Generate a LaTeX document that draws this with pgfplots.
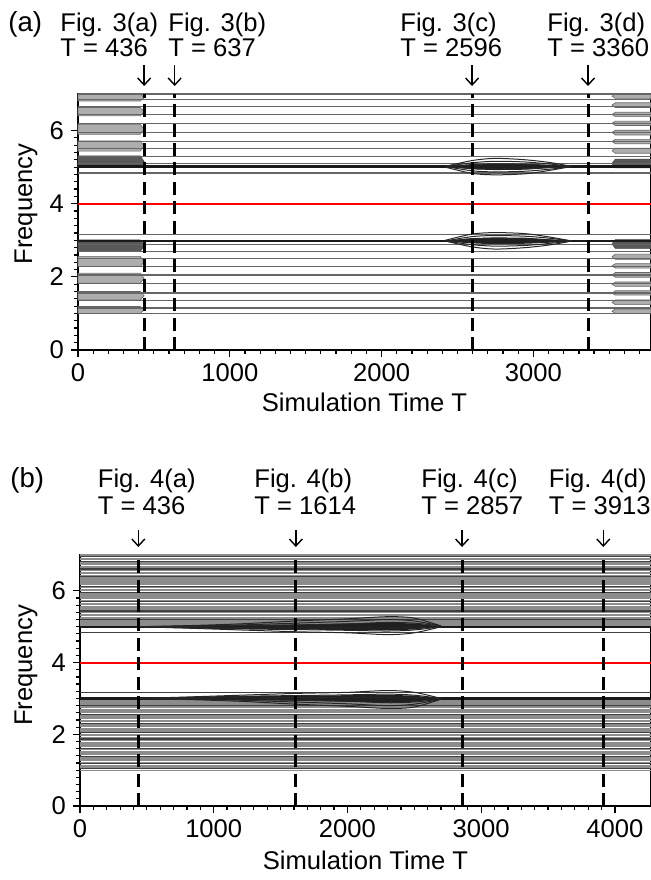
\documentclass[border=0pt]{standalone}
\usepackage{fontspec}
\setmainfont{Liberation Sans}
\usepackage{pgfplots}
\pgfplotsset{compat=1.18}
\usetikzlibrary{arrows.meta}
\newcommand{\fs}{\fontsize{12.8bp}{15bp}\selectfont}
\newcommand{\fb}{\fontsize{13.8bp}{16bp}\selectfont}
\tikzset{
  arr/.style={-{Straight Barb[length=3.5bp,width=6.5bp]}, line width=0.7bp},
  vdash/.style={black, line width=1.5bp, dash pattern=on 6.5bp off 3.2bp},
  post/.style={black!60, line width=0.6bp},
  thickl/.style={black!90, line width=1.2bp},
  bandL/.style={fill=black!32, draw=black!60, line width=0.3bp},
  bandD/.style={fill=black!65, draw=black!75, line width=0.3bp},
  lens/.style={smooth, black!85, line width=0.5bp},
  bline/.style={black!45, line width=0.62bp},
  dline/.style={black!75, line width=0.6bp},
}
\pgfplotsset{
  myaxis/.style={
    scale only axis, anchor=south west, clip=false,
    ymin=0, ymax=7, xmin=0,
    xtick={0,1000,2000,3000,4000}, ytick={0,2,4,6},
    minor x tick num=9, minor y tick num=9,
    tick align=outside, xtick pos=bottom, ytick pos=left,
    major tick length=3.5bp, minor tick length=2bp,
    every tick/.style={black, line width=0.6bp},
    axis line style={line width=0.7bp},
    tick label style={font=\fs},
    label style={font=\fs},
    /pgf/number format/assume math mode=true,
    /pgf/number format/1000 sep={},
    xlabel={Simulation Time T}, ylabel={Frequency},
  }
}
\begin{document}
\begin{tikzpicture}
\useasboundingbox (0,0) rectangle (325.5bp,440bp);
% ---------------- panel (a)
\begin{axis}[myaxis, at={(39bp,265bp)}, width=286.5bp, height=128bp, xmax=3775,
  xlabel style={at={(axis description cs:0.5,-0.203)}, anchor=center},
  ylabel style={at={(axis description cs:-0.0907,0.57)}, anchor=center}]
% bands before T = 436
\foreach \lo/\mi/\hi in {5.44/5.58/5.72, 5.90/6.03/6.17, 6.40/6.52/6.63, 6.81/6.90/7.00,
  1.00/1.10/1.19, 1.37/1.48/1.60, 1.83/1.96/2.10, 2.28/2.42/2.56}{
  \edef\tmp{\noexpand\addplot[bandL] coordinates {(0,\lo) (410,\lo) (436,\mi) (410,\hi) (0,\hi)} -- cycle;}\tmp}
\foreach \lo/\mi/\hi in {4.99/5.15/5.31, 2.69/2.85/3.01}{
  \edef\tmp{\noexpand\addplot[bandD] coordinates {(0,\lo) (410,\lo) (436,\mi) (410,\hi) (0,\hi)} -- cycle;}\tmp}
% bands after T = 3518
\foreach \lo/\mi/\hi in {6.88/6.94/7.00, 6.63/6.70/6.76, 6.38/6.44/6.50, 6.14/6.20/6.26,
  5.88/5.95/6.01, 5.64/5.70/5.76, 5.38/5.45/5.52,
  1.00/1.06/1.12, 1.24/1.30/1.37, 1.50/1.56/1.62, 1.74/1.80/1.86,
  1.99/2.05/2.12, 2.24/2.30/2.36, 2.48/2.55/2.62}{
  \edef\tmp{\noexpand\addplot[bandL] coordinates {(3775,\lo) (3540,\lo) (3518,\mi) (3540,\hi) (3775,\hi)} -- cycle;}\tmp}
\foreach \lo/\mi/\hi in {4.98/5.10/5.22, 2.78/2.90/3.02}{
  \edef\tmp{\noexpand\addplot[bandD] coordinates {(3775,\lo) (3540,\lo) (3518,\mi) (3540,\hi) (3775,\hi)} -- cycle;}\tmp}
% persistent lines
\pgfplotsinvokeforeach{7.00,6.85,6.65,6.44,6.19,5.95,5.71,5.50,5.30,5.11,4.84,
  1.00,1.15,1.35,1.56,1.81,2.05,2.29,2.50,2.70,2.89,3.16}{
  \addplot[post] coordinates {(0,#1) (3775,#1)};}
\addplot[thickl] coordinates {(0,5.02) (3775,5.02)};
\addplot[thickl] coordinates {(0,2.98) (3775,2.98)};
% lens near 5
\addplot[fill=black!88, draw=none] coordinates {(2420,5.02) (2596,5.07) (2750,5.09) (2950,5.08) (3120,5.05) (3252,5.02)
  (3120,4.98) (2950,4.93) (2750,4.92) (2596,4.94)} -- cycle;
\addplot[lens] coordinates {(2420,5.02) (2596,5.18) (2750,5.24) (2950,5.20) (3120,5.12) (3252,5.02)};
\addplot[lens] coordinates {(2420,5.02) (2596,5.12) (2750,5.16) (2950,5.14) (3120,5.08) (3252,5.02)};
\addplot[lens] coordinates {(2420,5.02) (2596,5.07) (2750,5.09) (2950,5.08) (3120,5.05) (3252,5.02)};
\addplot[lens] coordinates {(2420,5.02) (2596,4.96) (2750,4.95) (2950,4.96) (3120,4.99) (3252,5.02)};
\addplot[lens] coordinates {(2420,5.02) (2596,4.90) (2750,4.87) (2950,4.89) (3120,4.95) (3252,5.02)};
\addplot[lens] coordinates {(2420,5.00) (2596,4.83) (2750,4.79) (2950,4.82) (3120,4.92) (3252,5.02)};
% lens near 3
\addplot[fill=black!88, draw=none] coordinates {(2420,2.98) (2596,2.93) (2750,2.91) (2950,2.92) (3120,2.95) (3252,2.98)
  (3120,3.02) (2950,3.07) (2750,3.08) (2596,3.06)} -- cycle;
\addplot[lens] coordinates {(2420,2.98) (2596,2.82) (2750,2.76) (2950,2.80) (3120,2.88) (3252,2.98)};
\addplot[lens] coordinates {(2420,2.98) (2596,2.88) (2750,2.84) (2950,2.86) (3120,2.92) (3252,2.98)};
\addplot[lens] coordinates {(2420,2.98) (2596,2.93) (2750,2.91) (2950,2.92) (3120,2.95) (3252,2.98)};
\addplot[lens] coordinates {(2420,2.98) (2596,3.04) (2750,3.05) (2950,3.04) (3120,3.01) (3252,2.98)};
\addplot[lens] coordinates {(2420,2.98) (2596,3.10) (2750,3.13) (2950,3.11) (3120,3.05) (3252,2.98)};
\addplot[lens] coordinates {(2420,3.00) (2596,3.17) (2750,3.21) (2950,3.18) (3120,3.08) (3252,2.98)};
% red line and markers
\addplot[red, line width=1bp] coordinates {(0,4) (3775,4)};
\pgfplotsinvokeforeach{436,637,2596,3360}{
  \addplot[vdash] coordinates {(#1,0) (#1,7)};
  \draw[arr] (axis cs:#1,7) ++(0,14.5bp) -- ++(0,-10.5bp);}
\end{axis}
% ---------------- panel (b)
\begin{axis}[myaxis, at={(40bp,37bp)}, width=285.5bp, height=125.5bp, xmax=4270,
  xlabel style={at={(axis description cs:0.5,-0.215)}, anchor=center},
  ylabel style={at={(axis description cs:-0.0945,0.56)}, anchor=center}]
\pgfplotsinvokeforeach{5.05,5.09,5.13,5.18,5.22,5.26,5.31,5.35,5.39,5.44,5.48,5.52,5.57,5.61,
  5.65,5.70,5.74,5.78,5.83,5.87,5.91,5.96,6.00,6.04,6.09,6.13,6.17,6.22,6.26,6.30,6.35,6.39,
  6.43,6.48,6.52,6.56,6.61,6.65,6.69,6.74,6.78,6.82,6.87,6.91,6.95,7.00,
  2.95,2.91,2.87,2.82,2.78,2.74,2.69,2.65,2.61,2.56,2.52,2.48,2.43,2.39,2.35,2.30,2.26,2.22,
  2.17,2.13,2.09,2.04,2.00,1.96,1.91,1.87,1.83,1.78,1.74,1.70,1.65,1.61,1.57,1.52,1.48,1.44,
  1.39,1.35,1.31,1.26,1.22,1.18,1.13,1.09,1.05,1.00}{
  \addplot[bline] coordinates {(0,#1) (4270,#1)};}
\pgfplotsinvokeforeach{4.84,5.20,5.44,5.70,5.96,6.13,6.39,6.61,6.82,6.95,
  3.16,2.80,2.56,2.30,2.04,1.87,1.61,1.39,1.18,1.05}{
  \addplot[dline] coordinates {(0,#1) (4270,#1)};}
\addplot[thickl] coordinates {(0,5.00) (4270,5.00)};
\addplot[thickl] coordinates {(0,3.00) (4270,3.00)};
% lens near 5
\addplot[fill=black!88, draw=none] coordinates {(436,5.00) (800,5.02) (1200,5.04) (1614,5.06) (2000,5.09) (2300,5.11) (2500,5.09) (2700,5.01)
  (2500,4.92) (2300,4.90) (2000,4.91) (1614,4.92) (1200,4.94) (800,4.97)} -- cycle;
\addplot[lens] coordinates {(436,5.00) (800,5.03) (1200,5.08) (1614,5.16) (2000,5.22) (2300,5.28) (2500,5.24) (2700,5.02)};
\addplot[lens] coordinates {(436,5.00) (800,5.02) (1200,5.05) (1614,5.10) (2000,5.15) (2300,5.20) (2500,5.16) (2700,5.02)};
\addplot[lens] coordinates {(436,5.00) (800,5.01) (1200,5.03) (1614,5.05) (2000,5.08) (2300,5.12) (2500,5.10) (2700,5.02)};
\addplot[lens] coordinates {(436,5.00) (800,4.98) (1200,4.97) (1614,4.97) (2000,4.97) (2300,4.96) (2500,4.97) (2700,5.00)};
\addplot[lens] coordinates {(436,5.00) (800,4.97) (1200,4.94) (1614,4.92) (2000,4.90) (2300,4.88) (2500,4.91) (2700,5.00)};
\addplot[lens] coordinates {(436,5.00) (800,4.96) (1200,4.91) (1614,4.86) (2000,4.83) (2300,4.78) (2500,4.83) (2700,5.00)};
% lens near 3
\addplot[fill=black!88, draw=none] coordinates {(436,3.00) (800,2.98) (1200,2.96) (1614,2.94) (2000,2.91) (2300,2.89) (2500,2.91) (2700,2.99)
  (2500,3.08) (2300,3.10) (2000,3.09) (1614,3.08) (1200,3.06) (800,3.03)} -- cycle;
\addplot[lens] coordinates {(436,3.00) (800,2.97) (1200,2.92) (1614,2.84) (2000,2.78) (2300,2.72) (2500,2.76) (2700,2.98)};
\addplot[lens] coordinates {(436,3.00) (800,2.98) (1200,2.95) (1614,2.90) (2000,2.85) (2300,2.80) (2500,2.84) (2700,2.98)};
\addplot[lens] coordinates {(436,3.00) (800,2.99) (1200,2.97) (1614,2.95) (2000,2.92) (2300,2.88) (2500,2.90) (2700,2.98)};
\addplot[lens] coordinates {(436,3.00) (800,3.02) (1200,3.03) (1614,3.03) (2000,3.03) (2300,3.04) (2500,3.03) (2700,3.00)};
\addplot[lens] coordinates {(436,3.00) (800,3.03) (1200,3.06) (1614,3.08) (2000,3.10) (2300,3.12) (2500,3.09) (2700,3.00)};
\addplot[lens] coordinates {(436,3.00) (800,3.04) (1200,3.09) (1614,3.14) (2000,3.17) (2300,3.22) (2500,3.17) (2700,3.00)};
\addplot[red, line width=1bp] coordinates {(0,4) (4270,4)};
\pgfplotsinvokeforeach{436,1614,2857,3913}{
  \addplot[vdash] coordinates {(#1,0) (#1,7)};
  \draw[arr] (axis cs:#1,7) ++(0,12.5bp) -- ++(0,-8.5bp);}
\end{axis}
% ---------------- annotations
\begin{scope}[every node/.style={anchor=base west, inner sep=0, font=\fs}]
\node[font=\fb] at (4bp,424bp) {(a)};
\node at (30bp,424bp) {Fig. 3(a)};   \node at (30bp,411.5bp) {T = 436};
\node at (84bp,424bp) {Fig. 3(b)};   \node at (84bp,411.5bp) {T = 637};
\node at (200bp,424bp) {Fig. 3(c)};  \node at (200bp,411.5bp) {T = 2596};
\node at (273.5bp,424bp) {Fig. 3(d)};\node at (273.5bp,411.5bp) {T = 3360};
\node[font=\fb] at (5bp,196bp) {(b)};
\node at (48.75bp,196bp) {Fig. 4(a)};  \node at (48.75bp,182.5bp) {T = 436};
\node at (127bp,196bp) {Fig. 4(b)};    \node at (127bp,182.5bp) {T = 1614};
\node at (210.5bp,196bp) {Fig. 4(c)};  \node at (210.5bp,182.5bp) {T = 2857};
\node at (274.25bp,196bp) {Fig. 4(d)}; \node at (274.25bp,182.5bp) {T = 3913};
\end{scope}
\end{tikzpicture}
\end{document}
